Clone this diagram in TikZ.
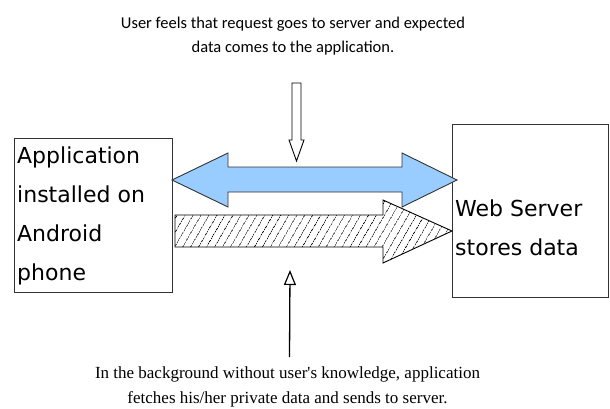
\documentclass[tikz,border=0pt]{standalone}
\usepackage{fontspec}
\newfontfamily\topfont{Carlito}
\newfontfamily\botfont{Liberation Serif}
\newfontfamily\boxfont{DejaVu Sans}
\usetikzlibrary{patterns.meta,arrows.meta}
\definecolor{arrowblue}{HTML}{99CCFF}
\definecolor{edgegray}{HTML}{333333}
\begin{document}
\begin{tikzpicture}[x=1pt,y=-1pt,
  boxshape/.style={draw=edgegray,line width=1pt,rectangle,inner sep=0pt,anchor=north west},
  boxtext/.style={font=\boxfont\fontsize{22}{39}\selectfont,align=left,inner sep=0pt,anchor=north west},
  toptext/.style={font=\topfont\fontsize{16.5}{24}\selectfont,align=center,inner sep=0pt,anchor=north},
  bottext/.style={font=\botfont\fontsize{17}{25}\selectfont,align=center,inner sep=0pt,anchor=north},
  bigarrow/.style={draw=edgegray,line width=0.9pt,line join=miter},
  hollowarrow/.style={draw=black,fill=white,line width=0.9pt,line join=miter}
]
\useasboundingbox (0,0) rectangle (610,409);
% boxes
\node[boxshape,minimum width=158pt,minimum height=154pt] (app) at (14,138) {};
\node[boxshape,minimum width=156pt,minimum height=173pt] (srv) at (452,124) {};
\node[boxtext] (apptext) at (17,147) {Application\\installed on\\Android\\phone};
\node[boxtext] (srvtext) at (455,200) {Web Server\\stores data};
% captions
\node[toptext] (top) at (293,17) {User feels that request goes to server and expected\\data comes to the application.};
\node[bottext] (bot) at (287.5,367) {In the background without user's knowledge, application\\fetches his/her private data and sends to server.};
% hatched arrow
\path[fill=white] (175,215) -- (383,215) -- (383,200) -- (452,231) -- (383,263) -- (383,247) -- (175,247) -- cycle;
\path[pattern={Lines[angle=60,distance=6.5pt,line width=0.7pt]}] (175,215) -- (383,215) -- (383,200) -- (452,231) -- (383,263) -- (383,247) -- (175,247) -- cycle;
\draw[black,line width=0.9pt,line join=miter] (175,215) -- (383,215) -- (383,200) -- (452,231) -- (383,263) -- (383,247) -- (175,247) -- cycle;
% blue double arrow
\draw[bigarrow,fill=arrowblue] (172,180) -- (228,153) -- (228,167) -- (402,167) -- (402,153) -- (457,180) -- (402,207) -- (402,192) -- (228,192) -- (228,207) -- cycle;
% top hollow arrow
\draw[hollowarrow] (292,83) -- (301,83) -- (301,140) -- (304,140) -- (296.5,161) -- (289,140) -- (292,140) -- cycle;
% bottom arrow
\coordinate (bstart) at (289.5,357);
\coordinate (btip) at (290,270);
\draw[line width=1.3pt,-{Triangle[open,length=15pt,width=12pt,line width=1.2pt]}] (bstart) -- (btip);
\end{tikzpicture}
\end{document}
